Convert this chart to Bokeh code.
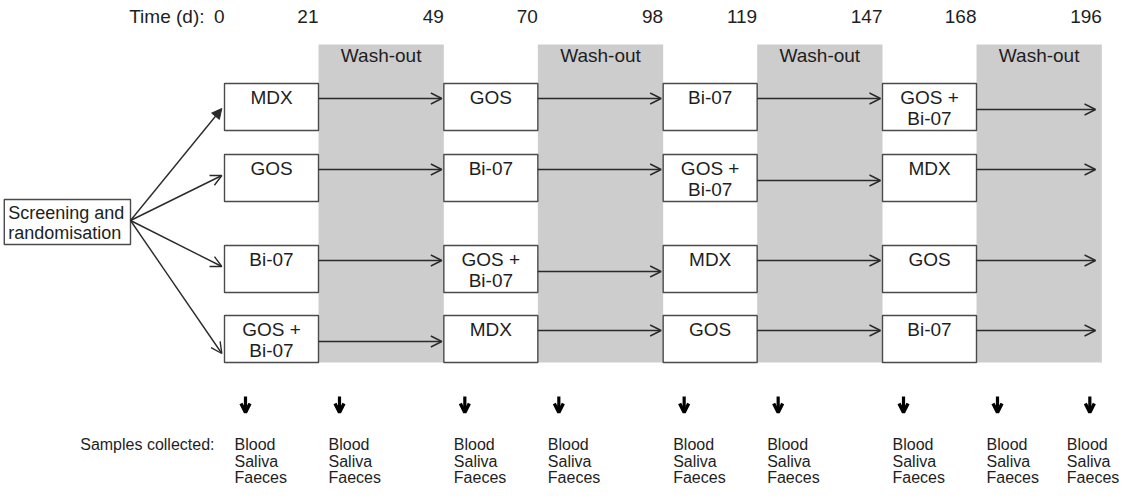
from bokeh.plotting import figure
from bokeh.models import Range1d, ColumnDataSource, Arrow, OpenHead, NormalHead
from bokeh.core.properties import value
from bokeh.embed import file_html
from bokeh.resources import INLINE

# ---------------- data ----------------
time_days = [0, 21, 49, 70, 98, 119, 147, 168, 196]
treat_start = [0, 49, 98, 147]
treat_end = [21, 70, 119, 168]
washout_start = [21, 70, 119, 168]
washout_end = [49, 98, 147, 196]
sequences = [
    ["MDX", "GOS", "Bi-07", "GOS +\nBi-07"],
    ["GOS", "Bi-07", "GOS +\nBi-07", "MDX"],
    ["Bi-07", "GOS +\nBi-07", "MDX", "GOS"],
    ["GOS +\nBi-07", "MDX", "GOS", "Bi-07"],
]
sample_days = [0, 21, 49, 70, 98, 119, 147, 168, 196]
sample_types = ["Blood", "Saliva", "Faeces"]

# ---------------- layout (diagram geometry, pixel units on y) ----------------
W, H = 1120, 488
px_per_day = 752 / 168
x0_px = 224
row_top = [91, 162, 253, 323]
box_h = 47
band_top, band_bottom = 52, 370
screen_left, screen_right = -49.2, -21.0
screen_top, screen_bottom = 207, 252
screen_tip_y = [116, 183, 274, 361]

FONT = value("Liberation Sans")
TXT = "#1e1e1e"
BOX_LINE = "#4a4a4a"
ARR = "#2a2a2a"

p = figure(width=W, height=H,
           x_range=Range1d(-x0_px / px_per_day, (W - x0_px) / px_per_day),
           y_range=Range1d(496, 8),
           toolbar_location=None, output_backend="svg", min_border=0)
p.axis.visible = False
p.grid.visible = False
p.outline_line_color = None
p.background_fill_color = "white"

# wash-out bands
p.quad(left=washout_start, right=washout_end,
       top=[band_top] * 4, bottom=[band_bottom] * 4,
       fill_color="#cdcdcd", line_color=None)
p.text(x=[(a + b) / 2 for a, b in zip(washout_start, washout_end)], y=[63] * 4,
       text=["Wash-out"] * 4, text_font=FONT, text_font_size="19px",
       text_align="center", text_baseline="middle", text_color=TXT)

# time labels
p.text(x=time_days, y=[24] * len(time_days), text=[str(d) for d in time_days],
       text_font=FONT, text_font_size="19px", text_align="right",
       text_baseline="middle", text_color=TXT)
p.text(x=[0], y=[24], text=["Time (d):"], x_offset=-20, text_font=FONT,
       text_font_size="19px", text_align="right", text_baseline="middle",
       text_color=TXT)

# treatment boxes and labels
bl, br, bt, bb = [], [], [], []
lx, ly, lt = [], [], []
ax0, ay0, ax1, ay1 = [], [], [], []
for r, seq in enumerate(sequences):
    top = row_top[r]
    for c, lab in enumerate(seq):
        bl.append(treat_start[c]); br.append(treat_end[c])
        bt.append(top); bb.append(top + box_h)
        lines = lab.split("\n")
        for k, ln in enumerate(lines):
            lx.append((treat_start[c] + treat_end[c]) / 2)
            ly.append(top + 13.5 + 21.5 * k)
            lt.append(ln)
        ay = top + (15 if len(lines) == 1 else 26)
        ax0.append(treat_end[c]); ay0.append(ay)
        if c + 1 < len(treat_start):
            ax1.append(treat_start[c + 1] - 0.45)
        else:
            ax1.append(washout_end[c] - 1.4)
        ay1.append(ay)

p.quad(left=bl, right=br, top=bt, bottom=bb, fill_color="white",
       line_color=BOX_LINE, line_width=1.4)
p.text(x=lx, y=ly, text=lt, text_font=FONT, text_font_size="19px",
       text_align="center", text_baseline="middle", text_color=TXT)

arr_src = ColumnDataSource(dict(x0=ax0, y0=ay0, x1=ax1, y1=ay1))
p.add_layout(Arrow(x_start="x0", y_start="y0", x_end="x1", y_end="y1",
                   source=arr_src, line_color=ARR, line_width=1.4,
                   end=OpenHead(size=11, line_color=ARR, line_width=1.4)))

# screening box
p.quad(left=[screen_left], right=[screen_right], top=[screen_top],
       bottom=[screen_bottom], fill_color="white", line_color=BOX_LINE,
       line_width=1.4)
p.text(x=[screen_left, screen_left], y=[220, 240],
       text=["Screening and", "randomisation"], x_offset=4, text_font=FONT,
       text_font_size="18px", text_align="left", text_baseline="middle",
       text_color=TXT)

for r, ty in enumerate(screen_tip_y):
    head = (NormalHead(size=10, fill_color=ARR, line_color=ARR)
            if r == 0 else OpenHead(size=11, line_color=ARR, line_width=1.4))
    p.add_layout(Arrow(x_start=screen_right, y_start=228,
                       x_end=treat_start[0] - 0.6, y_end=ty,
                       line_color=ARR, line_width=1.4, end=head))

# sample collection
last = sample_days[-1]
text_off = [10 if d < last else -35 for d in sample_days]
arrow_off = [21 if d < last else -12 for d in sample_days]
dx = [d + o / px_per_day for d, o in zip(sample_days, arrow_off)]
down_src = ColumnDataSource(dict(x=dx, y0=[404] * len(dx), y1=[420] * len(dx)))
p.add_layout(Arrow(x_start="x", y_start="y0", x_end="x", y_end="y1",
                   source=down_src, line_color="black", line_width=3.2,
                   end=OpenHead(size=9, line_color="black", line_width=3.4)))

for d, o in zip(sample_days, text_off):
    for k, s in enumerate(sample_types):
        p.text(x=[d], y=[452 + 16.5 * k], text=[s], x_offset=o,
               text_font=FONT, text_font_size="16px", text_align="left",
               text_baseline="middle", text_color=TXT)
p.text(x=[0], y=[452], text=["Samples collected:"], x_offset=-10,
       text_font=FONT, text_font_size="16px", text_align="right",
       text_baseline="middle", text_color=TXT)

open("out.html", "w").write(file_html(p, INLINE))
